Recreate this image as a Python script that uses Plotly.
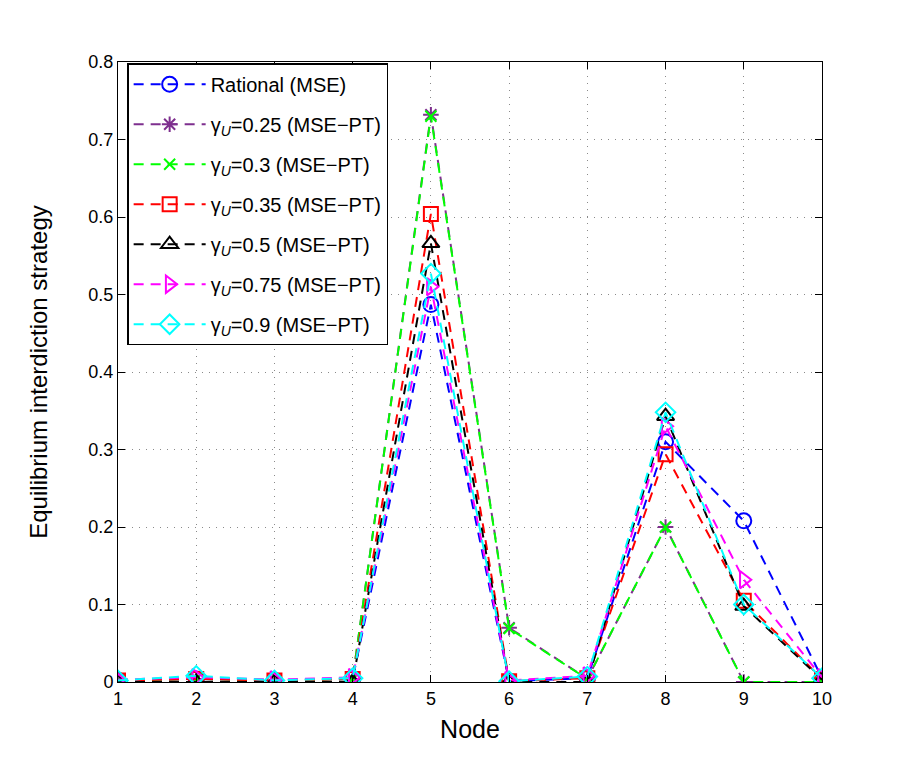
import plotly.graph_objects as go

nodes = [1, 2, 3, 4, 5, 6, 7, 8, 9, 10]

rational = [0.002, 0.004, 0.002, 0.004, 0.487, 0.001, 0.005, 0.310, 0.208, 0.005]
g025 = [0.002, 0.004, 0.002, 0.004, 0.732, 0.070, 0.004, 0.200, 0.000, 0.000]
g030 = [0.002, 0.004, 0.002, 0.004, 0.730, 0.069, 0.004, 0.200, 0.000, 0.000]
g035 = [0.002, 0.004, 0.002, 0.004, 0.604, 0.001, 0.005, 0.294, 0.105, 0.004]
g050 = [0.000, 0.000, 0.000, 0.000, 0.566, 0.000, 0.000, 0.343, 0.098, 0.003]
g075 = [0.003, 0.006, 0.003, 0.006, 0.510, 0.002, 0.008, 0.330, 0.132, 0.006]
g090 = [0.002, 0.008, 0.002, 0.005, 0.527, 0.001, 0.007, 0.348, 0.100, 0.005]

names = [
    "Rational (MSE)",
    "γ<sub><i>U</i></sub>=0.25 (MSE−PT)",
    "γ<sub><i>U</i></sub>=0.3 (MSE−PT)",
    "γ<sub><i>U</i></sub>=0.35 (MSE−PT)",
    "γ<sub><i>U</i></sub>=0.5 (MSE−PT)",
    "γ<sub><i>U</i></sub>=0.75 (MSE−PT)",
    "γ<sub><i>U</i></sub>=0.9 (MSE−PT)",
]
series = [rational, g025, g030, g035, g050, g075, g090]
colors = ["#0000FF", "#7E2F8E", "#00FF00", "#FF0000", "#000000", "#FF00FF", "#00FFFF"]
symbols = ["circle-open", "asterisk-open", "x-thin-open", "square-open",
           "triangle-up-open", "triangle-right-open", "diamond-open"]
sizes = [15, 13, 11, 14, 15, 15, 15]

fig = go.Figure()
for i, (name, vals, c, s, sz) in enumerate(zip(names, series, colors, symbols, sizes)):
    fig.add_trace(go.Scatter(
        x=nodes, y=vals, name=name, mode="lines+markers", legendgroup=f"g{i}",
        line=dict(color=c, width=2, dash="10px,7px"),
        marker=dict(symbol=s, size=sz, color=c, line=dict(color=c, width=2)),
    ))

axis_common = dict(
    showline=True, linecolor="black", linewidth=1, mirror="ticks",
    ticks="inside", ticklen=7, tickcolor="black",
    showgrid=True, gridcolor="#8a8a8a", griddash="1px,6px", gridwidth=1,
    zeroline=False, tickfont=dict(size=18, color="black", family="Liberation Sans, Arial"),
)

fig.update_layout(
    width=911, height=769,
    paper_bgcolor="white", plot_bgcolor="white",
    margin=dict(l=118, r=89, t=62, b=87),
    font=dict(family="Liberation Sans, Arial", color="black"),
    xaxis=dict(range=[1, 10], tickvals=nodes, ticktext=[str(n) for n in nodes],
               title=dict(text="Node", font=dict(size=25), standoff=12), **axis_common),
    yaxis=dict(range=[0, 0.8], tickvals=[0, 0.1, 0.2, 0.3, 0.4, 0.5, 0.6, 0.7, 0.8],
               ticktext=["0", "0.1", "0.2", "0.3", "0.4", "0.5", "0.6", "0.7", "0.8"],
               title=dict(text="Equilibrium interdiction strategy", font=dict(size=24), standoff=33),
               **axis_common),
    legend=dict(x=0.013, y=0.998, xanchor="left", yanchor="top",
                bgcolor="white", bordercolor="black", borderwidth=1.5,
                font=dict(size=20, color="black"), tracegroupgap=11, itemwidth=72),
    showlegend=True,
)

fig.write_html("out.html")
